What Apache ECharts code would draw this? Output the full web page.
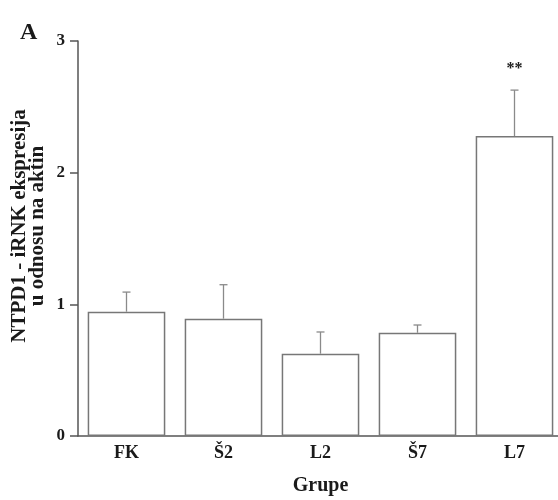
<!DOCTYPE html>
<html>
<head>
<meta charset="utf-8">
<script src="https://cdn.jsdelivr.net/npm/echarts@6/dist/echarts.min.js"></script>
<style>
  html, body { margin: 0; padding: 0; background: #fff; }
  #chart { width: 558px; height: 500px; }
</style>
</head>
<body>
<div id="chart"></div>
<script>
// NTPD1 mRNA expression relative to actin, per group (mean and upper SEM)
const groups = ['FK', 'Š2', 'L2', 'Š7', 'L7'];
const means = [0.944, 0.891, 0.625, 0.784, 2.278];
const errors = [0.149, 0.258, 0.165, 0.059, 0.349];
const significance = ['', '', '', '', '**'];
const yTicks = [0, 1, 2, 3];

const serif = '"Liberation Serif", "DejaVu Serif", serif';
const axisColor = '#555';
const textColor = '#1a1a1a';

const chart = echarts.init(document.getElementById('chart'), null, { renderer: 'canvas' });

const errorData = groups.map((g, i) => [i, means[i], errors[i], significance[i]]);

chart.setOption({
  animation: false,
  backgroundColor: '#fff',
  // plot area runs slightly past the right edge of the canvas
  grid: { left: 78, width: 485, top: 41, height: 395, outerBoundsMode: 'none', containLabel: false },
  xAxis: {
    type: 'category',
    data: groups,
    axisLine: { lineStyle: { color: axisColor, width: 1.5 } },
    axisTick: { show: false },
    axisLabel: { color: textColor, fontFamily: serif, fontWeight: 'bold', fontSize: 18, margin: 8 },
    name: 'Grupe',
    nameLocation: 'middle',
    nameGap: 40,
    nameTextStyle: { color: textColor, fontFamily: serif, fontWeight: 'bold', fontSize: 20 }
  },
  yAxis: {
    type: 'value',
    min: yTicks[0],
    max: yTicks[yTicks.length - 1],
    interval: 1,
    splitLine: { show: false },
    axisLine: { show: true, lineStyle: { color: axisColor, width: 1.5 } },
    axisTick: { show: true, length: 8, lineStyle: { color: axisColor, width: 1.5 } },
    axisLabel: { color: textColor, fontFamily: serif, fontWeight: 'bold', fontSize: 17, margin: 13 }
  },
  graphic: [
    {
      type: 'text',
      x: 20, y: 21,
      style: { text: 'A', font: 'bold 24px ' + serif, fill: textColor }
    },
    {
      type: 'text',
      x: 29, y: 226,
      rotation: Math.PI / 2,
      style: {
        text: 'NTPD1 - iRNK ekspresija\nu odnosu na aktin',
        font: 'bold 21px ' + serif,
        fill: textColor,
        align: 'center',
        verticalAlign: 'middle',
        lineHeight: 18
      }
    }
  ],
  series: [
    {
      type: 'bar',
      data: means,
      barCategoryGap: '20%',
      itemStyle: { color: '#fff', borderColor: '#777', borderWidth: 1.5 },
      z: 2
    },
    {
      type: 'custom',
      data: errorData,
      z: 3,
      renderItem: function (params, api) {
        const base = api.coord([api.value(0), api.value(1)]);
        const top = api.coord([api.value(0), api.value(1) + api.value(2)]);
        const stroke = { stroke: '#8a8a8a', lineWidth: 1.3 };
        const children = [
          { type: 'line', shape: { x1: base[0], y1: base[1], x2: top[0], y2: top[1] }, style: stroke },
          { type: 'line', shape: { x1: top[0] - 4, y1: top[1], x2: top[0] + 4, y2: top[1] }, style: stroke }
        ];
        const sig = significance[params.dataIndex];
        if (sig) {
          children.push({
            type: 'text',
            x: top[0], y: top[1] - 21,
            style: { text: sig, font: 'bold 16px ' + serif, fill: textColor, align: 'center', verticalAlign: 'middle' }
          });
        }
        return { type: 'group', children: children };
      }
    }
  ]
});
</script>
</body>
</html>
